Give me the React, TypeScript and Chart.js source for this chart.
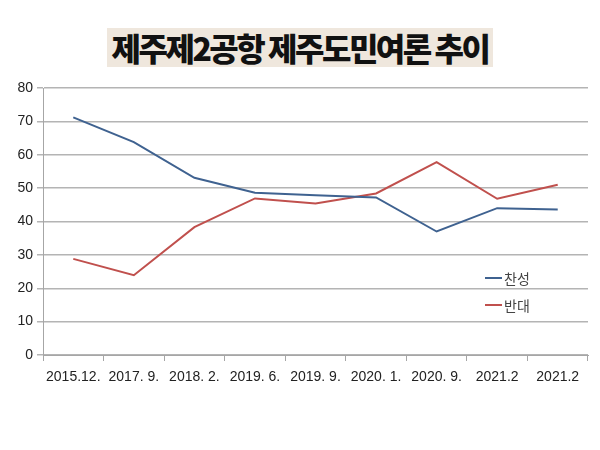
import React, { useEffect, useRef } from "react";
import { Chart, registerables } from "chart.js";

Chart.register(...registerables);

const TITLE = "제주제2공항 제주도민여론 추이";
const categories = ["2015.12.", "2017. 9.", "2018. 2.", "2019. 6.", "2019. 9.", "2020. 1.", "2020. 9.", "2021.2", "2021.2"];
const seriesNames = ["찬성", "반대"];
const favor = [71.2, 63.8, 53.1, 48.6, 47.9, 47.2, 37.0, 44.0, 43.6];
const oppose = [28.8, 23.9, 38.3, 46.9, 45.4, 48.4, 57.8, 46.8, 51.0];
const colors = ["#3f6290", "#c0504d"];
const yTicks = [0, 10, 20, 30, 40, 50, 60, 70, 80];

const FONT = "'Liberation Sans', Arial, 'Noto Sans CJK KR', sans-serif";

const legendPlugin = {
  id: "innerLegend",
  afterDraw(chart: any) {
    const { ctx, chartArea } = chart;
    const x0 = chartArea.right - 103;
    const ys = [chartArea.top + 190, chartArea.top + 217];
    ctx.save();
    chart.data.datasets.forEach((ds: any, i: number) => {
      ctx.strokeStyle = ds.borderColor;
      ctx.lineWidth = 2;
      ctx.beginPath();
      ctx.moveTo(x0, ys[i]);
      ctx.lineTo(x0 + 17, ys[i]);
      ctx.stroke();
      ctx.fillStyle = "#444";
      ctx.font = "14px 'Noto Sans CJK KR', sans-serif";
      ctx.textBaseline = "middle";
      ctx.textAlign = "left";
      ctx.fillText(ds.label, x0 + 19, ys[i] + 1);
    });
    ctx.restore();
  },
};

export default function App() {
  const ref = useRef<HTMLCanvasElement>(null);
  useEffect(() => {
    if (!ref.current) return;
    const chart = new Chart(ref.current, {
      type: "line",
      data: {
        labels: categories,
        datasets: [
          { label: seriesNames[0], data: favor, borderColor: colors[0], backgroundColor: colors[0], borderWidth: 2, pointRadius: 0, tension: 0 },
          { label: seriesNames[1], data: oppose, borderColor: colors[1], backgroundColor: colors[1], borderWidth: 2, pointRadius: 0, tension: 0 },
        ],
      },
      options: {
        animation: false,
        responsive: false,
        layout: { padding: { left: 0, right: 12, top: 88, bottom: 60 } },
        plugins: { legend: { display: false }, tooltip: { enabled: false }, title: { display: false } },
        scales: {
          x: {
            type: "category",
            offset: true,
            afterFit: (s: any) => { s.height = 35; },
            grid: { offset: true, drawOnChartArea: false, drawTicks: true, tickLength: 6, color: "#a6a6a6" },
            border: { color: "#a6a6a6", width: 1 },
            ticks: { color: "#222", font: { size: 14, family: FONT }, padding: 8, maxRotation: 0, autoSkip: false },
          },
          y: {
            min: 0,
            max: 80,
            afterFit: (s: any) => { s.width = 43; },
            afterBuildTicks: (s: any) => { s.ticks = yTicks.map((v) => ({ value: v })); },
            grid: { color: "#b4b4b4", lineWidth: 1.5, tickLength: 6 },
            border: { color: "#a6a6a6", width: 1 },
            ticks: { color: "#222", font: { size: 14, family: FONT }, padding: 4 },
          },
        },
      },
      plugins: [legendPlugin],
    });
    return () => chart.destroy();
  }, []);
  return (
    <div style={{ position: "absolute", left: 0, top: 0, width: 600, height: 450, background: "#fff" }}>
      <div
        style={{
          position: "absolute",
          left: 107,
          top: 28,
          width: 386,
          height: 39,
          background: "#efe7dd",
          display: "flex",
          alignItems: "center",
          justifyContent: "center",
          fontFamily: "'Noto Sans CJK KR', sans-serif",
          fontWeight: 900,
          fontSize: 32,
          letterSpacing: -2.5,
          color: "#111",
          whiteSpace: "nowrap",
          lineHeight: "39px",
        }}
      >
        {TITLE}
      </div>
      <canvas ref={ref} width={600} height={450} style={{ position: "absolute", left: 0, top: 0 }} />
    </div>
  );
}
